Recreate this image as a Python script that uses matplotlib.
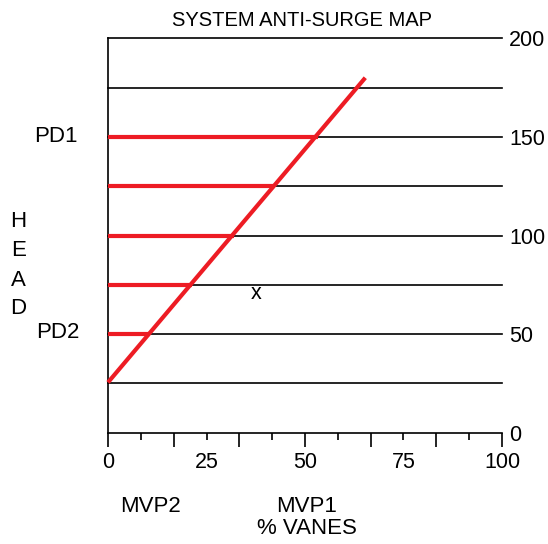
import numpy as np
import matplotlib.pyplot as plt

# --- chart data ---
head_ticks = [0, 50, 100, 150, 200]          # right-hand HEAD scale
grid_levels = [25, 50, 75, 100, 125, 150, 175, 200]
vane_labels = [0, 25, 50, 75, 100]           # % VANES labels
surge_x = [0, 65.3]                          # surge line endpoints (% vanes)
surge_y = [25.5, 180]                        # surge line endpoints (head)
control_levels = [50, 75, 100, 125, 150]     # red horizontal control lines
control_ends = [10.6, 21.2, 31.9, 42.5, 53.3]
op_point = (37.7, 70.8)                      # the "x" operating point

RED = '#ED1C24'
W, H = 548, 544
plt.rcParams['font.family'] = ['Liberation Sans', 'DejaVu Sans']

fig = plt.figure(figsize=(W / 100, H / 100), dpi=100, facecolor='white')
ax = fig.add_axes([108 / W, 111.3 / H, 394 / W, 394.4 / H])
ax.set_xlim(0, 100)
ax.set_ylim(0, 200)

for s in ['top', 'right']:
    ax.spines[s].set_visible(False)
for s in ['left', 'bottom']:
    ax.spines[s].set_linewidth(1.2)
    ax.spines[s].set_color('black')

# black head grid lines
for lv in grid_levels:
    ax.axhline(lv, color='black', lw=1.2, clip_on=False, zorder=1)

# surge line + control lines
ax.plot(surge_x, surge_y, color=RED, lw=3.0, solid_capstyle='butt', clip_on=False, zorder=3)
for lv, xe in zip(control_levels, control_ends):
    ax.plot([0, xe], [lv, lv], color=RED, lw=3.0, solid_capstyle='butt', clip_on=False, zorder=3)

ax.text(op_point[0], op_point[1], 'x', fontsize=15.5, ha='center', va='center')

# right hand head scale
ax.yaxis.tick_right()
ax.set_yticks(head_ticks)
ax.set_yticklabels([str(v) for v in head_ticks], fontsize=15.5)
ax.tick_params(axis='y', length=0, pad=5)

# bottom ticks: six divisions with midpoints
ax.set_xticks(np.linspace(0, 100, 7))
ax.set_xticks(np.linspace(0, 100, 13), minor=True)
ax.set_xticklabels([])
ax.tick_params(axis='x', which='major', direction='out', length=10, width=1.2)
ax.tick_params(axis='x', which='minor', direction='out', length=5, width=1.2)
for v in vane_labels:
    ax.text(v, -30 / 394.4, str(v), transform=ax.get_xaxis_transform(), fontsize=15.5,
            ha='center', va='center')

def ftext(x, y, s, **kw):
    fig.text(x / W, 1 - y / H, s, **kw)

ftext(302.5, 20, 'SYSTEM ANTI-SURGE MAP', fontsize=14.5, ha='center', va='center')
ftext(78, 136.5, 'PD1', fontsize=16, ha='right', va='center')
ftext(80, 333, 'PD2', fontsize=16, ha='right', va='center')
for ch, yy in zip('HEAD', [221.5, 251, 280, 308.5]):
    ftext(18.5, yy, ch, fontsize=16, ha='center', va='center')
ftext(150.8, 506.5, 'MVP2', fontsize=16, ha='center', va='center')
ftext(306.7, 506.5, 'MVP1', fontsize=16, ha='center', va='center')
ftext(306.7, 528, '% VANES', fontsize=16, ha='center', va='center')

fig.savefig('out.png', dpi=100, facecolor='white')
plt.close(fig)
